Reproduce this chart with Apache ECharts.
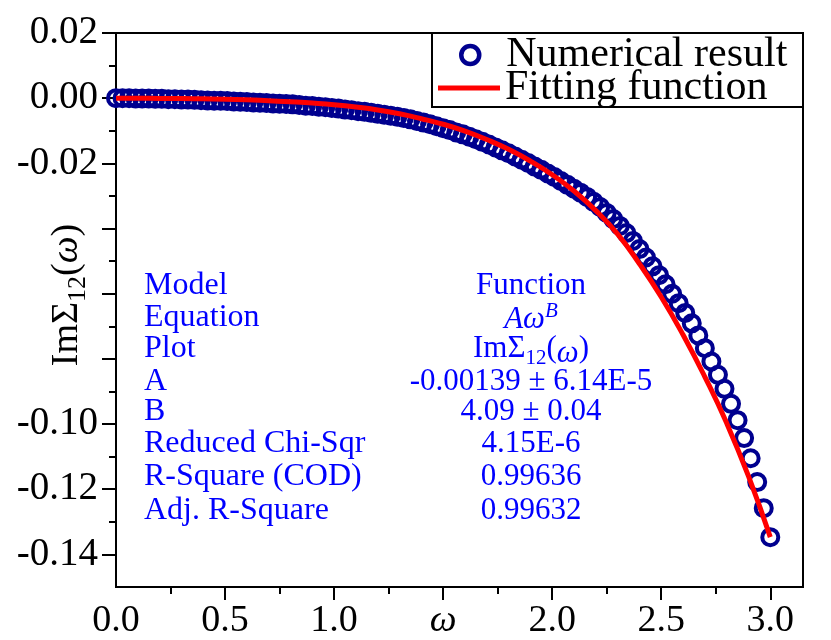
<!DOCTYPE html>
<html>
<head>
<meta charset="utf-8">
<script src="https://cdn.jsdelivr.net/npm/echarts@6/dist/echarts.min.js"></script>
<style>html,body{margin:0;padding:0;background:#fff;}#chart{width:831px;height:640px;}</style>
</head>
<body>
<div id="chart"></div>
<script>
// ---- data ----
const omegaNum = [
  0.00,0.03,0.06,0.09,0.12,0.15,0.18,0.21,0.24,0.27,
  0.30,0.33,0.36,0.39,0.42,0.45,0.48,0.51,0.54,0.57,
  0.60,0.63,0.66,0.69,0.72,0.75,0.78,0.81,0.84,0.87,
  0.90,0.93,0.96,0.99,1.02,1.05,1.08,1.11,1.14,1.17,
  1.20,1.23,1.26,1.29,1.32,1.35,1.38,1.41,1.44,1.47,
  1.50,1.53,1.56,1.59,1.62,1.65,1.68,1.71,1.74,1.77,
  1.80,1.83,1.86,1.89,1.92,1.95,1.98,2.01,2.04,2.07,
  2.10,2.13,2.16,2.19,2.22,2.25,2.28,2.31,2.34,2.37,
  2.40,2.43,2.46,2.49,2.52,2.55,2.58,2.61,2.64,2.67,
  2.70,2.73,2.76,2.79,2.82,2.85,2.88,2.91,2.94,2.97,
  3.00
];
const imSigmaNum = [
  0.0000,0.0000,0.0000,-0.0001,-0.0001,-0.0001,-0.0002,-0.0002,-0.0003,-0.0003,
  -0.0004,-0.0004,-0.0005,-0.0006,-0.0007,-0.0008,-0.0008,-0.0009,-0.0010,-0.0011,
  -0.0012,-0.0013,-0.0014,-0.0015,-0.0016,-0.0017,-0.0018,-0.0019,-0.0021,-0.0023,
  -0.0024,-0.0026,-0.0028,-0.0030,-0.0032,-0.0035,-0.0037,-0.0040,-0.0042,-0.0045,
  -0.0048,-0.0051,-0.0054,-0.0057,-0.0061,-0.0065,-0.0070,-0.0075,-0.0080,-0.0086,
  -0.0092,-0.0098,-0.0105,-0.0111,-0.0118,-0.0126,-0.0134,-0.0142,-0.0151,-0.0160,
  -0.0169,-0.0179,-0.0189,-0.0199,-0.0210,-0.0220,-0.0231,-0.0242,-0.0254,-0.0266,
  -0.0278,-0.0290,-0.0303,-0.0318,-0.0334,-0.0352,-0.0371,-0.0392,-0.0414,-0.0438,
  -0.0463,-0.0489,-0.0516,-0.0543,-0.0571,-0.0600,-0.0629,-0.0659,-0.0691,-0.0728,
  -0.0767,-0.0808,-0.0849,-0.0892,-0.0938,-0.0988,-0.1043,-0.1105,-0.1178,-0.1258,
  -0.1347
];
const omegaFit = [
  0.0,0.1,0.2,0.3,0.4,0.5,0.6,0.7,0.8,0.9,
  1.0,1.1,1.2,1.3,1.4,1.5,1.6,1.7,1.8,1.9,
  2.0,2.1,2.2,2.3,2.4,2.5,2.6,2.7,2.8,2.9,
  3.0
];
const imSigmaFit = [
  0.0000,0.0000,-0.0001,-0.0001,-0.0002,-0.0003,-0.0005,-0.0008,-0.0011,-0.0015,
  -0.0020,-0.0027,-0.0036,-0.0048,-0.0063,-0.0080,-0.0101,-0.0127,-0.0157,-0.0193,
  -0.0235,-0.0285,-0.0345,-0.0417,-0.0508,-0.0610,-0.0726,-0.0855,-0.0997,-0.1160,
  -0.1347
];
const xMajorTicks = [0.5,1.0,1.5,2.0,2.5,3.0];
const xMinorTicks = [0.25,0.75,1.25,1.75,2.25,2.75];
const xTickLabels = [0.0,0.5,1.0,1.5,2.0,2.5,3.0];
const yMajorTicks = [0.02,0.00,-0.02,-0.04,-0.06,-0.08,-0.10,-0.12,-0.14];
const yMinorTicks = [0.01,-0.01,-0.03,-0.05,-0.07,-0.09,-0.11,-0.13];
const yTickLabels = [0.02,0.00,-0.02,-0.10,-0.12,-0.14];
const seriesNames = ['Numerical result','Fitting function'];
const statNames = ['Model','Equation','Plot','A','B','Reduced Chi-Sqr','R-Square (COD)','Adj. R-Square'];
const statValues = ['Function','{i|Aω}{s|B}','{r|ImΣ}{b|12}{r|(}{i|ω}{r|)}','-0.00139 ± 6.14E-5','4.09 ± 0.04','4.15E-6','0.99636','0.99632'];

// ---- chart ----
const FONT = 'Liberation Serif';
const NAVY = '#00008f';
const BLUE = '#0000ff';
const chart = echarts.init(document.getElementById('chart'), null, {renderer: 'canvas'});

const xRange = {min: 0, max: 3.15};
const yRange = {min: -0.15, max: 0.02};

const statLineY = [286, 318, 349, 382, 412, 444, 477, 511];
const blueRich = {
  i: {fill: BLUE, fontFamily: FONT, fontSize: 31, fontStyle: 'italic', lineHeight: 34, verticalAlign: 'bottom'},
  s: {fill: BLUE, fontFamily: FONT, fontSize: 21, fontStyle: 'italic', lineHeight: 34, verticalAlign: 'top'},
  r: {fill: BLUE, fontFamily: FONT, fontSize: 31, lineHeight: 40, verticalAlign: 'middle'},
  b: {fill: BLUE, fontFamily: FONT, fontSize: 21, lineHeight: 40, verticalAlign: 'bottom'}
};
const graphics = [
  {type: 'rect', shape: {x: 432, y: 33, width: 371, height: 74}, style: {fill: '#fff', stroke: '#000', lineWidth: 2}, z: 10},
  {type: 'text', x: 67, y: 295, rotation: Math.PI / 2, z: 10,
    style: {text: '{r|ImΣ}{b|12}{r|(}{i|ω}{r|)}', textAlign: 'center', textVerticalAlign: 'middle',
      rich: {
        r: {fill: '#000', fontFamily: FONT, fontSize: 38, lineHeight: 48, verticalAlign: 'middle'},
        b: {fill: '#000', fontFamily: FONT, fontSize: 26, lineHeight: 48, verticalAlign: 'bottom'},
        i: {fill: '#000', fontFamily: FONT, fontSize: 38, fontStyle: 'italic', lineHeight: 48, verticalAlign: 'middle'}
      }}}
];
statNames.forEach((t, k) => {
  graphics.push({type: 'text', x: 144, y: statLineY[k], z: 10,
    style: {text: t, fill: BLUE, fontFamily: FONT, fontSize: 32, textAlign: 'left', textVerticalAlign: 'middle'}});
  graphics.push({type: 'text', x: 531, y: statLineY[k], z: 10,
    style: {text: statValues[k], fill: BLUE, fontFamily: FONT, fontSize: 31, textAlign: 'center', textVerticalAlign: 'middle', rich: blueRich}});
});

const legendCommon = {
  orient: 'vertical', z: 20,
  itemWidth: 62, itemHeight: 18, itemGap: 0, padding: 0, selectedMode: false,
  textStyle: {fontFamily: FONT, fontSize: 42, color: '#000', lineHeight: 33}
};

const option = {
  animation: false,
  backgroundColor: '#fff',
  grid: {left: 116, right: 28, top: 33, bottom: 53, show: true, borderColor: '#000', borderWidth: 2, backgroundColor: 'transparent'},
  legend: [
    Object.assign({}, legendCommon, {left: 459, top: 34,
      data: [{name: seriesNames[0], icon: 'circle', itemStyle: {color: 'transparent', borderColor: NAVY, borderWidth: 4.5}}]}),
    Object.assign({}, legendCommon, {left: 438, top: 67,
      data: [{name: seriesNames[1], icon: 'path://M0,0 L62,0 L62,5 L0,5 Z', itemStyle: {color: '#ff0000', borderWidth: 0}}]})
  ],
  xAxis: [
    {type: 'value', min: xRange.min, max: xRange.max, position: 'bottom',
      axisLine: {show: true, onZero: false, lineStyle: {color: '#000', width: 2}},
      axisTick: {show: true, length: 13, lineStyle: {color: '#000', width: 2}, customValues: xMajorTicks},
      axisLabel: {show: true, margin: 15, color: '#000', fontFamily: FONT, fontSize: 38, customValues: xTickLabels,
        formatter: v => (Math.abs(v - 1.5) < 1e-9 ? '{w|ω}' : v.toFixed(1)),
        rich: {w: {fontFamily: FONT, fontSize: 38, fontStyle: 'italic', color: '#000'}}},
      splitLine: {show: false}},
    {type: 'value', min: xRange.min, max: xRange.max, position: 'bottom',
      axisLine: {show: false, onZero: false},
      axisTick: {show: true, length: 7, lineStyle: {color: '#000', width: 2}, customValues: xMinorTicks},
      axisLabel: {show: false}, splitLine: {show: false}}
  ],
  yAxis: [
    {type: 'value', min: yRange.min, max: yRange.max, position: 'left',
      axisLine: {show: true, onZero: false, lineStyle: {color: '#000', width: 2}},
      axisTick: {show: true, length: 14, lineStyle: {color: '#000', width: 2}, customValues: yMajorTicks},
      axisLabel: {show: true, margin: 18, color: '#000', fontFamily: FONT, fontSize: 39, customValues: yTickLabels,
        formatter: v => v.toFixed(2)},
      splitLine: {show: false}},
    {type: 'value', min: yRange.min, max: yRange.max, position: 'left',
      axisLine: {show: false, onZero: false},
      axisTick: {show: true, length: 7, lineStyle: {color: '#000', width: 2}, customValues: yMinorTicks},
      axisLabel: {show: false}, splitLine: {show: false}}
  ],
  series: [
    {name: seriesNames[0], type: 'scatter', xAxisIndex: 0, yAxisIndex: 0,
      symbol: 'circle', symbolSize: 16,
      itemStyle: {color: 'transparent', borderColor: NAVY, borderWidth: 4, opacity: 1},
      data: omegaNum.map((x, k) => [x, imSigmaNum[k]]), z: 2},
    {name: seriesNames[1], type: 'line', xAxisIndex: 0, yAxisIndex: 0,
      showSymbol: false, symbol: 'none', smooth: true,
      lineStyle: {color: '#ff0000', width: 5}, itemStyle: {color: '#ff0000'},
      data: omegaFit.map((x, k) => [x, imSigmaFit[k]]), z: 3}
  ],
  graphic: graphics
};
chart.setOption(option);
</script>
</body>
</html>
